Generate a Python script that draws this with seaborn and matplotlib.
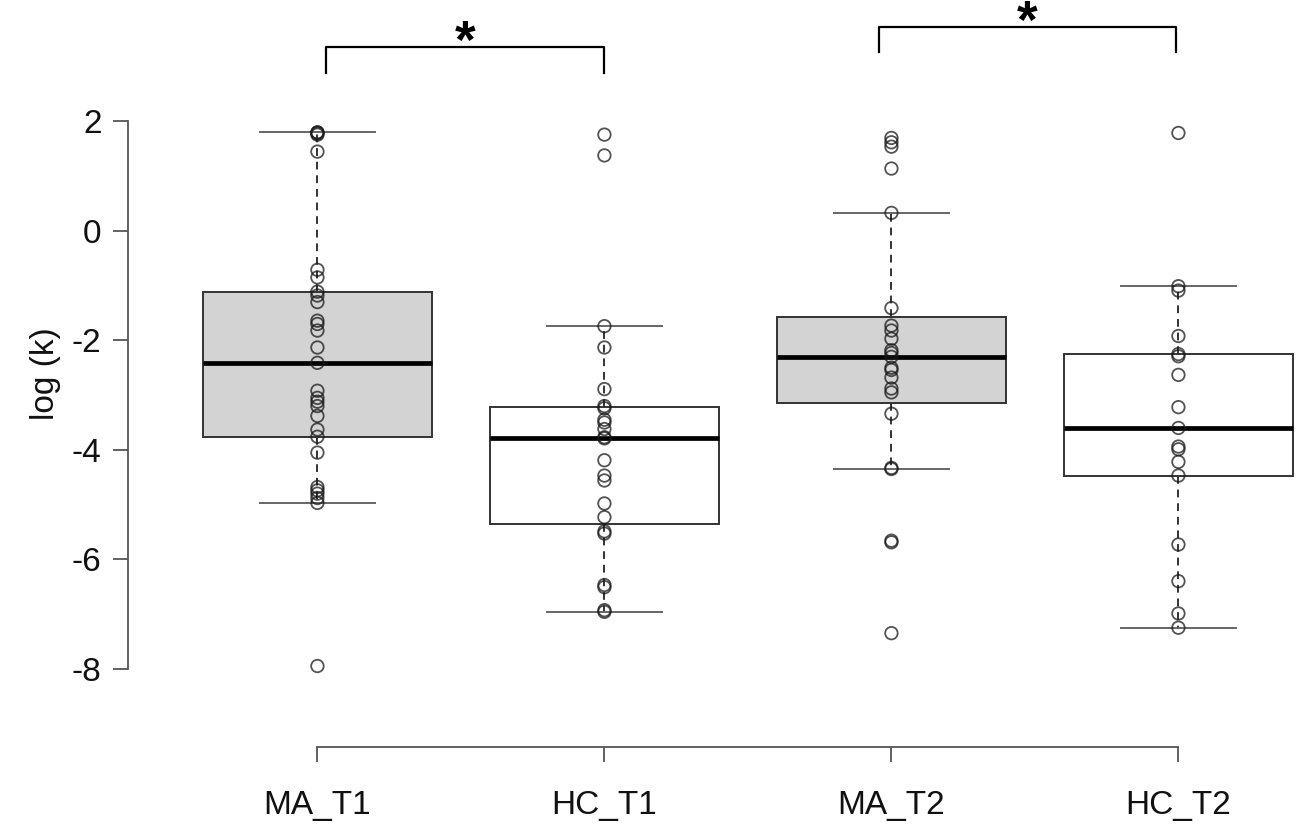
import pandas as pd
import matplotlib
matplotlib.use('Agg')
import matplotlib.pyplot as plt
import seaborn as sns

# valores (log(k) por grupo)
groups = ['MA_T1', 'HC_T1', 'MA_T2', 'HC_T2']

ma_t1 = [-7.95, -4.97, -4.88, -4.80, -4.74, -4.68, -4.05, -3.76, -3.63, -3.38,
         -3.20, -3.12, -3.05, -2.92, -2.41, -2.13, -1.82, -1.70, -1.64, -1.30,
         -1.18, -1.11, -0.85, -0.71, 1.45, 1.76, 1.78, 1.80, 1.80]
hc_t1 = [-6.96, -6.93, -6.51, -6.47, -5.53, -5.49, -5.23, -4.98, -4.56, -4.47,
         -4.19, -3.79, -3.77, -3.62, -3.50, -3.45, -3.24, -3.20, -2.89, -2.13,
         -1.74, 1.38, 1.76]
ma_t2 = [-7.35, -5.69, -5.66, -4.35, -4.33, -3.34, -2.95, -2.88, -2.68, -2.54,
         -2.50, -2.30, -2.23, -2.18, -1.97, -1.82, -1.73, -1.41, 0.33, 1.14,
         1.54, 1.62, 1.70]
hc_t2 = [-7.25, -6.99, -6.40, -5.73, -4.47, -4.22, -3.99, -3.94, -3.60, -3.22,
         -2.63, -2.29, -2.25, -1.92, -1.09, -1.01, 1.79]

box_fill = {'MA_T1': 'lightgray', 'HC_T1': 'white', 'MA_T2': 'lightgray', 'HC_T2': 'white'}
y_ticks = [-8, -6, -4, -2, 0, 2]

# corchetes de significancia: (x izq, x der, y base, y arriba)
brackets = [(0.03, 1.0, 2.89, 3.36), (1.955, 2.99, 3.27, 3.73)]

df = pd.DataFrame({
    'group': ['MA_T1'] * len(ma_t1) + ['HC_T1'] * len(hc_t1)
             + ['MA_T2'] * len(ma_t2) + ['HC_T2'] * len(hc_t2),
    'logk': ma_t1 + hc_t1 + ma_t2 + hc_t2,
})

plt.rcParams['font.family'] = ['Liberation Sans', 'DejaVu Sans']
plt.rcParams['axes.unicode_minus'] = False

fig = plt.figure(figsize=(12.99, 8.36), dpi=100)
ax = fig.add_axes([128 / 1299, 89 / 836, 4.32 * 287 / 1299, 747 / 836])

sns.boxplot(data=df, x='group', y='logk', order=groups, hue='group', palette=box_fill,
            legend=False, saturation=1, width=0.8, whis=1.5, showfliers=False,
            linecolor='#333333', linewidth=1.4,
            medianprops=dict(color='black', linewidth=3.4),
            whiskerprops=dict(linestyle=(0, (4, 3)), color='#333333'),
            capprops=dict(color='#666666'),
            ax=ax)

sns.stripplot(data=df, x='group', y='logk', order=groups, jitter=False, size=9,
              color='#1a1a1a', edgecolor='#1a1a1a', linewidth=1.3, alpha=0.75, ax=ax)
for coll in ax.collections:
    coll.set_facecolor('none')

ax.set_xlim(-0.66, 3.66)
ax.set_ylim(-9.43, 4.22)

for s in ['top', 'right']:
    ax.spines[s].set_visible(False)
ax.spines['left'].set_bounds(-8, 2)
ax.spines['bottom'].set_bounds(0, 3)
for s in ['left', 'bottom']:
    ax.spines[s].set_color('#555555')
    ax.spines[s].set_linewidth(1.3)

ax.set_yticks(y_ticks)
ax.set_yticklabels([str(t) for t in y_ticks])
ax.tick_params(axis='both', direction='out', length=11, width=1.3, color='#555555',
               labelsize=24, labelcolor='#111111')
ax.tick_params(axis='y', pad=8)
ax.tick_params(axis='x', pad=20)
ax.set_xlabel('')
ax.set_ylabel('log (k)', fontsize=24, color='#111111', labelpad=8)

for x0, x1, yb, yt in brackets:
    ax.plot([x0, x0, x1, x1], [yb, yt, yt, yb], color='black', linewidth=1.6, clip_on=False)
    ax.text((x0 + x1) / 2, yt - 0.2, '*', ha='center', va='baseline',
            fontsize=38, fontweight='bold', color='black')

fig.savefig('out.png', dpi=100)
